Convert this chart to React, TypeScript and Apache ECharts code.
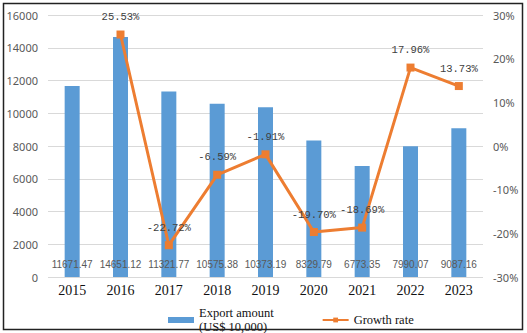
import React, { useEffect, useRef } from "react";
import * as echarts from "echarts";

const years = ["2015", "2016", "2017", "2018", "2019", "2020", "2021", "2022", "2023"];
const exportAmount = [11671.47, 14651.12, 11321.77, 10575.38, 10373.19, 8329.79, 6773.35, 7990.07, 9087.16];
const growthRate: (number | null)[] = [null, 25.53, -22.72, -6.59, -1.91, -19.7, -18.69, 17.96, 13.73];

export default function App() {
  const ref = useRef<HTMLDivElement>(null);
  useEffect(() => {
    document.body.style.margin = "0";
    const chart = echarts.init(ref.current!, undefined, { renderer: "svg" });
    chart.setOption({
      animation: false,
      backgroundColor: "#fff",
      grid: { left: 48, right: 44, top: 15, bottom: 56, containLabel: false },
      graphic: [
        {
          type: "rect",
          shape: { x: 3.5, y: 3.5, width: 519, height: 326 },
          style: { fill: "none", stroke: "#222", lineWidth: 1.5 },
          silent: true,
          z: 100,
        },
      ],
      legend: {
        left: 163,
        top: 301,
        itemGap: 48,
        itemWidth: 26,
        itemHeight: 6,
        textStyle: { fontFamily: "Liberation Serif", fontSize: 12.5, color: "#111", lineHeight: 14 },
        data: [
          { name: "Export amount\n(US$ 10,000)", icon: "rect" },
          { name: "Growth rate" },
        ],
      },
      xAxis: {
        type: "category",
        data: years,
        axisLine: { show: false },
        axisTick: { show: false },
        axisLabel: { fontFamily: "Liberation Serif", fontSize: 14, color: "#111", margin: 6 },
      },
      yAxis: [
        {
          type: "value",
          min: 0,
          max: 16000,
          interval: 2000,
          axisLine: { show: false },
          axisTick: { show: false },
          splitLine: { lineStyle: { color: "#d9d9d9", width: 1 } },
          axisLabel: {
            fontFamily: "Noto Sans",
            fontSize: 11,
            color: "#595959",
            margin: 10,
            formatter: (v: number) => String(v),
          },
        },
        {
          type: "value",
          min: -30,
          max: 30,
          interval: 10,
          axisLine: { show: false },
          axisTick: { show: false },
          splitLine: { show: false },
          axisLabel: {
            fontFamily: "Noto Sans",
            fontSize: 11,
            color: "#595959",
            margin: 10,
            formatter: (v: number) => `${v}%`,
          },
        },
      ],
      series: [
        {
          name: "Export amount\n(US$ 10,000)",
          type: "bar",
          data: exportAmount,
          barWidth: 15,
          itemStyle: { color: "#5B9BD5" },
          label: {
            show: true,
            position: "insideBottom",
            distance: 8,
            fontFamily: "Liberation Sans",
            fontSize: 10,
            color: "#595959",
            formatter: (p: any) => p.value.toFixed(2),
          },
        },
        {
          name: "Growth rate",
          type: "line",
          yAxisIndex: 1,
          data: growthRate,
          symbol: "rect",
          symbolSize: 8,
          lineStyle: { color: "#ED7D31", width: 3 },
          itemStyle: { color: "#ED7D31" },
          label: {
            show: true,
            position: "top",
            distance: 8,
            fontFamily: "Liberation Mono",
            fontSize: 10.5,
            color: "#404040",
            formatter: (p: any) => `${p.value.toFixed(2)}%`,
          },
          z: 5,
        },
      ],
    });
    return () => chart.dispose();
  }, []);
  return <div ref={ref} style={{ width: 527, height: 333 }} />;
}
